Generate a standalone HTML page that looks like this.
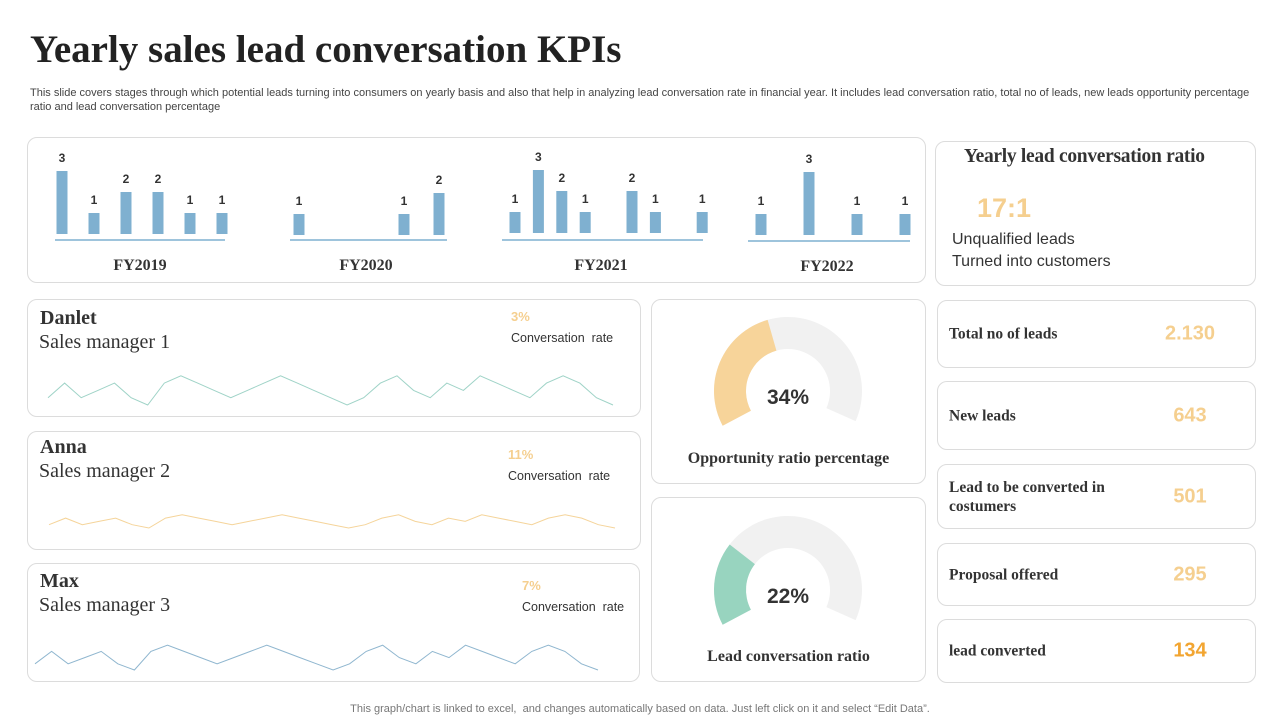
<!DOCTYPE html>
<html><head><meta charset="utf-8"><style>
*{box-sizing:border-box;margin:0;padding:0}
body{width:1280px;height:720px;background:#fff;position:relative;overflow:hidden;font-family:"Liberation Sans",sans-serif;color:#333}
.card{position:absolute;border:1px solid #dcdcdc;border-radius:10px;background:#fff}
.abs{position:absolute;white-space:nowrap}
.serif{font-family:"Liberation Serif",serif}
.orange{color:#f5cf8f;font-weight:bold}
svg{position:absolute;left:0;top:0}
</style></head><body>
<div class="abs serif" style="left:30px;top:27px;font-size:39px;font-weight:bold;color:#222">Yearly sales lead conversation KPIs</div>
<div class="abs" style="left:30px;top:86px;font-size:11px;line-height:14px;white-space:normal;width:1225px;color:#444">This slide covers stages through which potential leads turning into consumers on yearly basis and also that help in analyzing lead conversation rate in financial year. It includes lead conversation ratio, total no of leads, new leads opportunity percentage ratio and lead conversation percentage</div>

<div class="card" style="left:27px;top:137px;width:899px;height:146px"></div>
<div class="card" style="left:935px;top:141px;width:321px;height:145px"></div>
<div class="card" style="left:27px;top:299px;width:614px;height:118px"></div>
<div class="card" style="left:27px;top:431px;width:614px;height:119px"></div>
<div class="card" style="left:27px;top:563px;width:613px;height:119px"></div>
<div class="card" style="left:651px;top:299px;width:275px;height:185px"></div>
<div class="card" style="left:651px;top:497px;width:275px;height:185px"></div>

<div class="abs serif" style="left:964px;top:146px;font-size:19.5px;font-weight:bold;letter-spacing:-0.3px">Yearly lead conversation ratio</div>
<div class="abs orange" style="left:977px;top:193px;font-size:27px">17:1</div>
<div class="abs" style="left:952px;top:229px;font-size:16px;line-height:22px">Unqualified leads<br>Turned into customers</div>

<div class="abs serif" style="left:40px;top:307px;font-size:20px;font-weight:bold">Danlet</div>
<div class="abs serif" style="left:39px;top:331px;font-size:20px">Sales manager 1</div>
<div class="abs orange" style="left:511px;top:309px;font-size:13px">3%</div>
<div class="abs" style="left:511px;top:331px;font-size:12.5px">Conversation&nbsp; rate</div>
<div class="abs serif" style="left:40px;top:436px;font-size:20px;font-weight:bold">Anna</div>
<div class="abs serif" style="left:39px;top:460px;font-size:20px">Sales manager 2</div>
<div class="abs orange" style="left:508px;top:447px;font-size:13px">11%</div>
<div class="abs" style="left:508px;top:469px;font-size:12.5px">Conversation&nbsp; rate</div>
<div class="abs serif" style="left:40px;top:570px;font-size:20px;font-weight:bold">Max</div>
<div class="abs serif" style="left:39px;top:594px;font-size:20px">Sales manager 3</div>
<div class="abs orange" style="left:522px;top:578px;font-size:13px">7%</div>
<div class="abs" style="left:522px;top:600px;font-size:12.5px">Conversation&nbsp; rate</div>

<div class="abs serif" style="left:651px;width:275px;text-align:center;top:450px;font-size:16px;font-weight:bold">Opportunity ratio percentage</div>
<div class="abs serif" style="left:651px;width:275px;text-align:center;top:648px;font-size:16px;font-weight:bold">Lead conversation ratio</div>

<div id="kpis"></div>
<div class="abs" style="left:0;width:1280px;text-align:center;top:703px;font-size:11px;color:#777">This graph/chart is linked to excel,&nbsp; and changes automatically based on data. Just left click on it and select “Edit Data”.</div>

<svg id="chart" width="1280" height="720"></svg>
<script>
// Bar chart data
const fy2019 = [3,1,2,2,1,1];
const fy2020 = [1,0,0,1,2];
const fy2021 = [1,3,2,1,0,2,1,0,1];
const fy2022 = [1,0,3,0,1,0,1];
const fyLabels = ["FY2019","FY2020","FY2021","FY2022"];
// Sparkline data
const sparkDanlet = [1,3,1,2,3,1,0,3,4,3,2,1,2,3,4,3,2,1,0,1,3,4,2,1,3,2,4,3,2,1,3,4,3,1,0];
const sparkAnna = [1,3,1,2,3,1,0,3,4,3,2,1,2,3,4,3,2,1,0,1,3,4,2,1,3,2,4,3,2,1,3,4,3,1,0];
const sparkMax = [1,3,1,2,3,1,0,3,4,3,2,1,2,3,4,3,2,1,0,1,3,4,2,1,3,2,4,3,2,1,3,4,3,1,0];
// Gauges
const gaugeValues = [34,22];
const gaugeLabels = ["34%","22%"];
// KPIs
const kpiNames = ["Total no of leads","New leads","Lead to be converted in costumers","Proposal offered","lead converted"];
const kpiValues = ["2.130","643","501","295","134"];

const NS="http://www.w3.org/2000/svg";
const svg=document.getElementById('chart');
function mk(t,a){const e=document.createElementNS(NS,t);for(const k in a)e.setAttribute(k,a[k]);svg.appendChild(e);return e;}

const groups=[
 {d:fy2019,x0:62,step:32,base:234,ax:[55,225],ay:240,lx:140,ly:270},
 {d:fy2020,x0:299,step:35,base:235,ax:[290,447],ay:240,lx:366,ly:270},
 {d:fy2021,x0:515,step:23.4,base:233,ax:[502,703],ay:240,lx:601,ly:270},
 {d:fy2022,x0:761,step:24,base:235,ax:[748,910],ay:241,lx:827,ly:271}
];
const unit=21;
groups.forEach((g,gi)=>{
  const ax=mk('line',{x1:g.ax[0],x2:g.ax[1],y1:g.ay,y2:g.ay,stroke:'#7fb0d0','stroke-width':1.5});
  
  
  g.d.forEach((v,i)=>{
    if(v<=0)return;
    const cx=g.x0+i*g.step, h=v*unit;
    const r=mk('rect',{x:cx-5.5,y:g.base-h,width:11,height:h,fill:'#7fb0d0'});
    
    
    const t=mk('text',{x:cx,y:g.base-h-9,'text-anchor':'middle','font-size':12,'font-weight':'bold',fill:'#333','font-family':'Liberation Sans'});
    t.textContent=v;
    
    
  });
  const l=mk('text',{x:g.lx,y:g.ly,'text-anchor':'middle','font-size':16,'font-weight':'bold',fill:'#333','font-family':'Liberation Serif'});
  l.textContent=fyLabels[gi];
  
  
});

function spark(d,x0,x1,yBase,amp,color,name){
  const pts=d.map((v,i)=>(x0+i*(x1-x0)/(d.length-1)).toFixed(1)+','+(yBase-v*amp).toFixed(1)).join(' ');
  const p=mk('polyline',{points:pts,fill:'none',stroke:color,'stroke-width':1});
  
  
}
spark(sparkDanlet,48,613,405,7.3,'#9fd3c7','danlet-sparkline');
spark(sparkAnna,49,615,528,3.3,'#f5d49a','anna-sparkline');
spark(sparkMax,35,598,670,6.2,'#8fb6cf','max-sparkline');

function arcPath(cx,cy,r1,r2,a0,a1){
  const rad=a=>(a-90)*Math.PI/180;
  const p=(r,a)=>[cx+r*Math.cos(rad(a)),cy+r*Math.sin(rad(a))];
  const lg=(a1-a0)>180?1:0;
  const [x1,y1]=p(r2,a0),[x2,y2]=p(r2,a1),[x3,y3]=p(r1,a1),[x4,y4]=p(r1,a0);
  return `M${x1},${y1} A${r2},${r2} 0 ${lg} 1 ${x2},${y2} L${x3},${y3} A${r1},${r1} 0 ${lg} 0 ${x4},${y4} Z`;
}
const gStart=-118,gEnd=114,gSweep=300;
const gcy=[391,590],gcol=['#f7d49a','#98d4bf'],gnames=['opportunity','lead-ratio'];
gaugeValues.forEach((v,i)=>{
  const bg=mk('path',{d:arcPath(788,gcy[i],42,74,gStart,gEnd),fill:'#f1f1f1'});
  
  
  const fg=mk('path',{d:arcPath(788,gcy[i],42,74,gStart,gStart+v/100*gSweep),fill:gcol[i]});
  
  
  const t=mk('text',{x:788,y:gcy[i]+13,'text-anchor':'middle','font-size':21,'font-weight':'bold',fill:'#333','font-family':'Liberation Sans'});
  t.textContent=gaugeLabels[i];
  
  
});

const kpiTops=[300,381,464,543,619],kpiH=[68,69,65,63,64];
const kc=document.getElementById('kpis');
kpiNames.forEach((n,i)=>{
  const c=document.createElement('div');
  c.className='card';
  c.style.cssText=`left:937px;top:${kpiTops[i]}px;width:319px;height:${kpiH[i]}px`;
  
  
  const l=document.createElement('div');
  l.className='serif';
  l.style.cssText='position:absolute;left:11px;top:50%;transform:translateY(-50%);width:190px;font-size:15.5px;font-weight:bold;line-height:19px;color:#333';
  l.textContent=n;
  
  
  const v=document.createElement('div');
  v.style.cssText=`position:absolute;left:200px;width:104px;text-align:center;top:50%;transform:translateY(-50%);font-size:20px;font-weight:bold;color:${i==4?'#f2a531':'#f5cf8f'}`;
  v.textContent=kpiValues[i];
  
  
  c.appendChild(l);c.appendChild(v);kc.appendChild(c);
});
</script>
</body></html>
